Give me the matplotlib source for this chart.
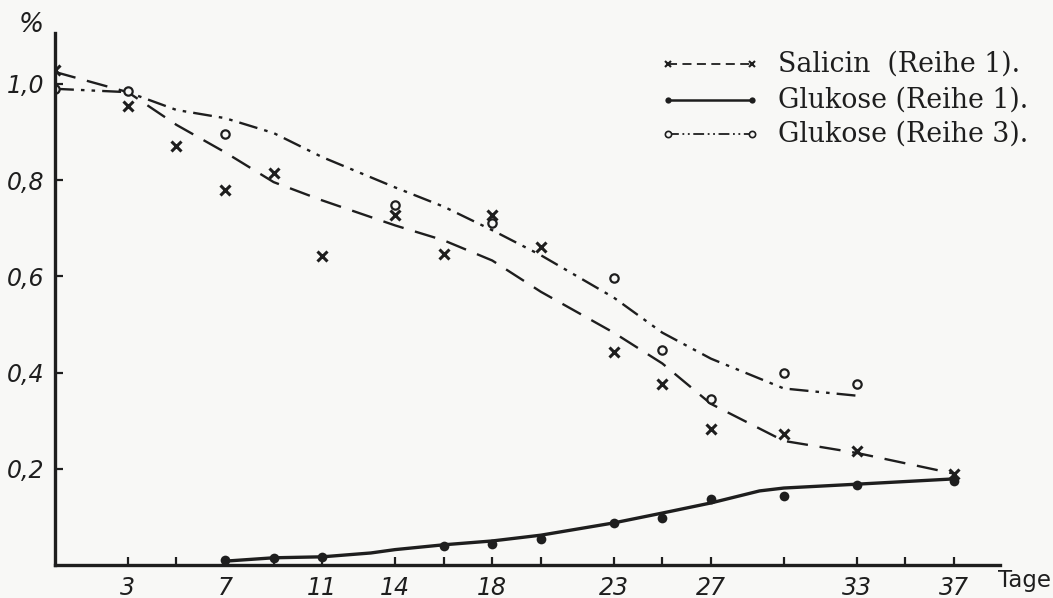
import matplotlib
matplotlib.use("Agg")
import matplotlib.pyplot as plt

# ---- data ----
sal_days = [0, 3, 5, 7, 9, 11, 14, 16, 18, 20, 23, 25, 27, 30, 33, 37]
sal_vals = [1.03, 0.954, 0.871, 0.779, 0.815, 0.642, 0.727, 0.646, 0.727, 0.662, 0.442, 0.377, 0.283, 0.273, 0.238, 0.19]

sal_curve_days = [0, 3, 5, 7, 9, 11, 14, 16, 18, 20, 23, 25, 27, 30, 33, 37]
sal_curve_vals = [1.025, 0.983, 0.915, 0.858, 0.796, 0.758, 0.706, 0.675, 0.633, 0.568, 0.483, 0.419, 0.335, 0.258, 0.233, 0.19]

glu1_days = [7, 9, 11, 16, 18, 20, 23, 25, 27, 30, 33, 37]
glu1_vals = [0.01, 0.015, 0.017, 0.04, 0.044, 0.054, 0.0875, 0.098, 0.1375, 0.144, 0.167, 0.175]

glu1_curve_days = [7, 9, 11, 13, 14, 16, 18, 20, 23, 25, 27, 29, 30, 33, 37]
glu1_curve_vals = [0.008, 0.015, 0.017, 0.025, 0.032, 0.042, 0.05, 0.062, 0.0875, 0.108, 0.129, 0.154, 0.16, 0.168, 0.179]

glu3_days = [0, 3, 7, 14, 18, 23, 25, 27, 30, 33]
glu3_vals = [0.99, 0.985, 0.896, 0.748, 0.712, 0.596, 0.448, 0.346, 0.40, 0.377]

glu3_curve_days = [0, 3, 5, 7, 9, 11, 14, 16, 18, 20, 23, 25, 27, 30, 33]
glu3_curve_vals = [0.99, 0.983, 0.946, 0.929, 0.898, 0.848, 0.785, 0.745, 0.696, 0.644, 0.556, 0.483, 0.429, 0.367, 0.352]

x_ticks = [3, 5, 7, 9, 11, 14, 16, 18, 20, 23, 25, 27, 30, 33, 35, 37]
x_labels = {3: "3", 7: "7", 11: "11", 14: "14", 18: "18", 23: "23", 27: "27", 33: "33", 37: "37"}
y_ticks = [0.2, 0.4, 0.6, 0.8, 1.0]
y_labels = ["0,2", "0,4", "0,6", "0,8", "1,0"]
legend_labels = ["Salicin  (Reihe 1).", "Glukose (Reihe 1).", "Glukose (Reihe 3)."]

ink = "#1e1e1e"
bg = "#f8f8f6"

fig = plt.figure(figsize=(10.53, 5.98), dpi=100, facecolor=bg)
ax = fig.add_axes([55 / 1053, 1 - 565 / 598, (1000 - 55) / 1053, (565 - 33) / 598])
ax.set_facecolor(bg)
ax.set_xlim(0, 38.9)
ax.set_ylim(0, 1.106)

for s in ["top", "right"]:
    ax.spines[s].set_visible(False)
for s in ["left", "bottom"]:
    ax.spines[s].set_linewidth(2.4)
    ax.spines[s].set_color(ink)

# curves
ax.plot(sal_curve_days, sal_curve_vals, color=ink, lw=1.7, dashes=(9, 5))
ax.plot(glu3_curve_days, glu3_curve_vals, color=ink, lw=1.7, dashes=(8, 3, 1.5, 3, 1.5, 3))
ax.plot(glu1_curve_days, glu1_curve_vals, color=ink, lw=2.4, solid_capstyle="round")

# points
ax.plot(sal_days, sal_vals, ls="none", marker="x", ms=7, mew=2.2, color=ink)
ax.plot(glu3_days, glu3_vals, ls="none", marker="o", ms=6, mew=1.6, mfc=bg, mec=ink)
ax.plot(glu1_days, glu1_vals, ls="none", marker="o", ms=7, mew=0, color=ink)

hand = dict(family="DejaVu Sans", style="oblique", fontsize=17, color=ink)

ax.set_xticks(x_ticks)
ax.set_xticklabels([x_labels.get(t, "") for t in x_ticks], **hand)
ax.set_yticks(y_ticks)
ax.set_yticklabels(y_labels, **hand)
ax.tick_params(axis="both", direction="in", length=6, width=1.6, color=ink, pad=8)

ax.text(-0.012, 0.99, "%", transform=ax.transAxes, ha="right", va="bottom",
        family="DejaVu Sans", style="oblique", fontsize=19, color=ink)
ax.text(0.998, -0.03, "Tage", transform=ax.transAxes, ha="left", va="center",
        family="DejaVu Sans", fontsize=16.5, color=ink)

# legend
leg_x0, leg_x1 = (668 - 55) / 945, (752 - 55) / 945
leg_ys = [(565 - 64) / 532, (565 - 100) / 532, (565 - 134) / 532]
styles = [
    dict(color=ink, lw=1.3, dashes=(5, 3), marker="x", ms=5, mew=1.5),
    dict(color=ink, lw=1.8, ls="-", marker="o", ms=4.5, mew=0),
    dict(color=ink, lw=1.3, dashes=(6, 2, 1, 2, 1, 2), marker="o", ms=4.5, mew=1.2, mfc=bg),
]
for y, st, lab in zip(leg_ys, styles, legend_labels):
    ax.plot([leg_x0, leg_x1], [y, y], transform=ax.transAxes, markevery=[0, 1],
            clip_on=False, **st)
    ax.text((778 - 55) / 945, y, lab, transform=ax.transAxes, ha="left", va="center",
            family="DejaVu Serif", fontsize=19.3, color=ink)

fig.savefig("out.png", dpi=100, facecolor=bg)
